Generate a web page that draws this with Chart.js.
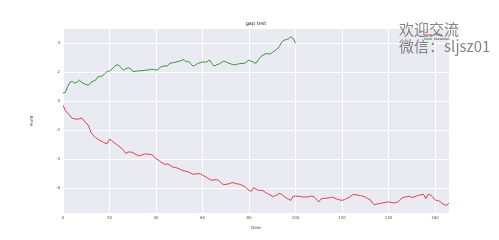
<!DOCTYPE html>
<html>
<head>
<meta charset="utf-8">
<script src="https://cdn.jsdelivr.net/npm/chart.js@4/dist/chart.umd.min.js"></script>
<style>
html,body{margin:0;padding:0;background:#fff;}
#wrap{position:relative;width:499px;height:240px;}
#wm{position:absolute;left:399px;top:20px;font-family:"Noto Sans CJK SC";font-size:15px;line-height:17px;color:rgba(110,110,110,0.85);white-space:nowrap;pointer-events:none;}
</style>
</head>
<body>
<div id="wrap"><canvas id="c" width="499" height="240"></canvas>
<div id="wm">欢迎交流<br>微信：sljsz01</div></div>
<script>
const title = "gap test";
const xTitle = "Date";
const yTitle = "Profit";
const seriesLabels = ["Profit", "Drawdown"];
const xTicks = [0, 20, 40, 60, 80, 100, 120, 140, 160];
const yTicks = [-6, -4, -2, 0, 2, 4];
const redValues = [-0.28,-0.65,-0.82,-1.0,-1.18,-1.22,-1.24,-1.22,-1.15,-1.35,-1.5,-1.7,-2.15,-2.35,-2.5,-2.62,-2.72,-2.78,-2.88,-2.92,
-2.62,-2.72,-2.85,-2.98,-3.1,-3.22,-3.38,-3.6,-3.5,-3.5,-3.54,-3.64,-3.72,-3.76,-3.7,-3.64,-3.63,-3.66,-3.68,-3.8,
-3.95,-4.06,-4.18,-4.28,-4.37,-4.32,-4.4,-4.53,-4.56,-4.6,-4.66,-4.74,-4.8,-4.83,-4.88,-4.96,-5.03,-5.02,-4.99,-5.0,
-5.1,-5.17,-5.28,-5.38,-5.45,-5.42,-5.4,-5.47,-5.62,-5.75,-5.73,-5.7,-5.65,-5.6,-5.66,-5.7,-5.72,-5.8,-5.86,-6.0,
-6.14,-6.2,-5.95,-6.05,-6.14,-6.15,-6.16,-6.28,-6.37,-6.45,-6.55,-6.55,-6.45,-6.35,-6.41,-6.55,-6.68,-6.75,-6.83,-6.55,
-6.53,-6.55,-6.56,-6.6,-6.6,-6.6,-6.57,-6.53,-6.6,-6.75,-6.94,-6.72,-6.7,-6.68,-6.67,-6.64,-6.6,-6.7,-6.75,-6.8,
-6.83,-6.78,-6.7,-6.64,-6.5,-6.41,-6.45,-6.48,-6.5,-6.55,-6.6,-6.72,-6.76,-7.01,-7.13,-7.08,-7.06,-7.02,-6.99,-6.96,
-6.94,-6.96,-7.01,-6.98,-6.94,-6.78,-6.65,-6.6,-6.58,-6.55,-6.62,-6.6,-6.53,-6.48,-6.44,-6.41,-6.71,-6.41,-6.46,-6.6,
-6.8,-6.85,-6.88,-7.05,-7.12,-7.17,-7.01];
const greenValues = [0.57,0.6,1.0,1.3,1.36,1.25,1.3,1.45,1.3,1.2,1.15,1.1,1.3,1.38,1.45,1.68,1.7,1.75,1.9,2.05,
2.08,2.2,2.38,2.5,2.48,2.3,2.14,2.22,2.3,2.25,2.05,2.05,2.08,2.09,2.1,2.12,2.14,2.16,2.2,2.18,
2.14,2.2,2.35,2.41,2.42,2.43,2.62,2.64,2.67,2.72,2.76,2.8,2.87,2.7,2.74,2.55,2.41,2.5,2.6,2.65,
2.71,2.69,2.72,2.83,2.6,2.41,2.5,2.55,2.65,2.75,2.72,2.63,2.58,2.52,2.5,2.55,2.58,2.6,2.6,2.72,
2.83,2.74,2.68,2.6,2.85,3.06,3.17,3.25,3.28,3.24,3.35,3.47,3.58,3.75,4.05,4.2,4.24,4.3,4.43,4.32,3.98];
const dates = redValues.map((_, i) => i);

const RED = '#e0404f', GREEN = '#3d943d';
const FONT = 'DejaVu Sans';

const bgPlugin = {
  id: 'bg',
  beforeDraw(chart) {
    const {ctx, chartArea: a} = chart;
    ctx.save();
    ctx.fillStyle = '#EAEAF2';
    ctx.fillRect(a.left, a.top, a.right - a.left, a.bottom - a.top);
    ctx.restore();
  },
  afterDraw(chart) {
    const {ctx, chartArea: a} = chart;
    ctx.save();
    ctx.fillStyle = '#222';
    ctx.font = '5px ' + FONT;
    ctx.textAlign = 'center';
    ctx.textBaseline = 'bottom';
    ctx.fillText(title, (a.left + a.right) / 2, a.top - 3);
    const ds = chart.data.datasets;
    let y = a.top + 6;
    const x0 = 424;
    ds.forEach(d => {
      ctx.strokeStyle = d.borderColor;
      ctx.lineWidth = 1;
      ctx.beginPath();
      ctx.moveTo(x0, y);
      ctx.lineTo(x0 + 8, y);
      ctx.stroke();
      ctx.fillStyle = '#333';
      ctx.font = '3px ' + FONT;
      ctx.textAlign = 'left';
      ctx.textBaseline = 'middle';
      ctx.fillText(d.label, x0 + 10, y);
      y += 4;
    });
    ctx.restore();
  }
};

new Chart(document.getElementById('c'), {
  type: 'line',
  data: {
    labels: dates,
    datasets: [
      {label: seriesLabels[0], data: redValues.map((v, i) => ({x: dates[i], y: v})), borderColor: RED, borderWidth: 1, pointRadius: 0, tension: 0, fill: false},
      {label: seriesLabels[1], data: greenValues.map((v, i) => ({x: dates[i], y: v})), borderColor: GREEN, borderWidth: 1, pointRadius: 0, tension: 0, fill: false}
    ]
  },
  plugins: [bgPlugin],
  options: {
    responsive: false,
    animation: false,
    layout: {padding: {left: 20, right: 50, top: 29, bottom: 10}},
    plugins: {legend: {display: false}, title: {display: false}, tooltip: {enabled: false}},
    scales: {
      x: {
        type: 'linear', min: 0, max: 166,
        afterBuildTicks(s) { s.ticks = xTicks.map(v => ({value: v})); },
        afterFit(s) { s.height = 17; },
        grid: {color: '#ffffff', lineWidth: 1, drawTicks: false},
        border: {display: false},
        ticks: {font: {family: FONT, size: 4}, color: '#555', padding: 3, maxRotation: 0, autoSkip: false},
        title: {display: true, text: xTitle, font: {family: FONT, size: 4}, color: '#444', padding: {top: 1, bottom: 0}}
      },
      y: {
        type: 'linear', min: -7.7, max: 4.97,
        afterBuildTicks(s) { s.ticks = yTicks.map(v => ({value: v})); },
        afterFit(s) { s.width = 43; },
        grid: {color: '#ffffff', lineWidth: 1, drawTicks: false},
        border: {display: false},
        ticks: {font: {family: FONT, size: 4}, color: '#555', padding: 3, autoSkip: false},
        title: {display: true, text: yTitle, font: {family: FONT, size: 4}, color: '#444', padding: {top: 10, bottom: 0}}
      }
    }
  }
});
</script>
</body>
</html>
